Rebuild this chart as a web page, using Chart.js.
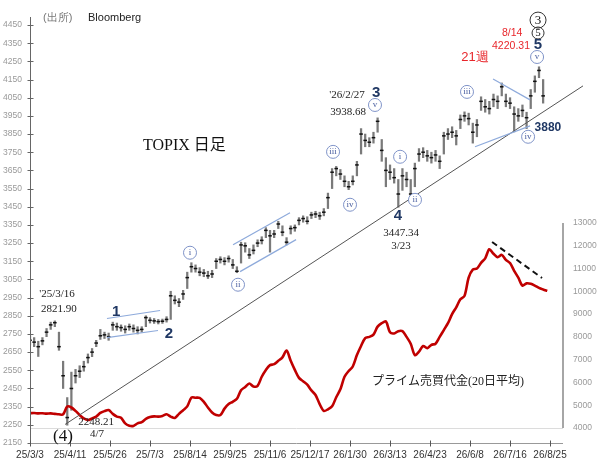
<!DOCTYPE html>
<html>
<head>
<meta charset="utf-8">
<script src="https://cdn.jsdelivr.net/npm/chart.js@4.4.1/dist/chart.umd.min.js"></script>
<style>
  html, body { margin: 0; padding: 0; background: #fff; }
  #wrap { width: 604px; height: 464px; }
</style>
</head>
<body>
<div id="wrap"><canvas id="chart" width="604" height="464"></canvas></div>
<script>
// x axis: trading-day index, one sample every 3 days
const step = 3;
const xLabels = ['25/3/3', '25/4/11', '25/5/26', '25/7/3', '25/8/14', '25/9/25', '25/11/6',
                 '25/12/17', '26/1/30', '26/3/13', '26/4/23', '26/6/8', '26/7/16', '26/8/25'];
const xLabelPos = [0, 29, 58, 87, 116, 145, 174, 203, 232, 261, 290, 319, 348, 377];

const yTicks = [2150, 2250, 2350, 2450, 2550, 2650, 2750, 2850, 2950, 3050, 3150, 3250,
                3350, 3450, 3550, 3650, 3750, 3850, 3950, 4050, 4150, 4250, 4350, 4450];
const y1Ticks = [4000, 5000, 6000, 7000, 8000, 9000, 10000, 11000, 12000, 13000];

// TOPIX (close / high / low)
const close = [2715,2705,2680,2712,2760,2800,2812,2680,2520,2290,
  2450,2520,2545,2570,2620,2650,2700,2740,2745,2735,
  2800,2790,2785,2775,2790,2780,2770,2775,2840,2825,
  2822,2818,2820,2830,2960,2935,2925,2970,3060,3120,
  3110,3090,3085,3070,3080,3150,3160,3150,3165,3130,
  3095,3240,3235,3185,3210,3250,3265,3320,3290,3300,
  3355,3310,3255,3330,3335,3375,3385,3370,3405,3410,
  3400,3420,3500,3640,3660,3630,3590,3560,3590,3680,
  3850,3815,3805,3830,3920,3760,3650,3640,3610,3520,
  3620,3600,3520,3660,3740,3750,3730,3720,3735,3700,
  3840,3850,3860,3840,3930,3950,3935,3860,3900,4030,
  4000,3990,4040,4030,4110,4030,4020,3960,3950,3980,
  3940,4060,4140,4200,4060];
const high = [2740,2730,2710,2730,2780,2815,2822,2760,2600,2400,
  2540,2555,2575,2600,2640,2670,2715,2775,2760,2755,
  2815,2810,2800,2795,2805,2800,2790,2790,2850,2840,
  2835,2830,2832,2845,2985,2960,2945,2990,3090,3142,
  3130,3115,3105,3095,3100,3165,3175,3170,3180,3160,
  3120,3255,3252,3220,3240,3268,3285,3335,3320,3320,
  3370,3345,3280,3345,3350,3390,3400,3395,3420,3425,
  3420,3440,3525,3660,3672,3655,3620,3590,3620,3700,
  3880,3850,3830,3860,3939,3820,3720,3680,3660,3600,
  3660,3640,3600,3690,3770,3775,3760,3750,3760,3730,
  3860,3880,3890,3870,3955,3972,3965,3910,3930,4055,
  4040,4030,4070,4060,4131,4070,4050,4000,3990,4010,
  3970,4095,4170,4220,4150];
const low = [2690,2680,2626,2690,2735,2775,2790,2660,2450,2248,
  2330,2480,2510,2545,2590,2625,2680,2720,2725,2715,
  2770,2770,2765,2755,2770,2760,2750,2760,2790,2810,
  2808,2805,2808,2815,2830,2915,2900,2940,3000,3090,
  3090,3070,3065,3055,3060,3110,3140,3130,3145,3110,
  3087,3140,3200,3165,3190,3230,3245,3280,3200,3280,
  3330,3290,3240,3300,3315,3350,3365,3355,3385,3390,
  3380,3400,3440,3550,3620,3600,3560,3544,3570,3620,
  3740,3780,3780,3800,3860,3700,3560,3600,3580,3447,
  3540,3560,3500,3560,3700,3720,3700,3690,3700,3660,
  3740,3820,3830,3790,3880,3920,3900,3800,3835,3980,
  3970,3960,4000,3990,4060,4000,3990,3862,3920,3945,
  3880,3990,4080,4160,4020];

// プライム売買代金 (20日平均), right axis
const turnover = [4650,4660,4640,4650,4630,4640,4620,4600,4600,4940,
  4900,4750,4570,4420,4350,4420,4500,4660,4740,4790,
  4620,4500,4450,4200,4100,4090,4200,4260,4400,4480,
  4510,4500,4530,4600,4500,4440,4620,4780,4950,5330,
  5330,5320,5150,4900,4680,4570,4570,4850,5050,5150,
  5280,5660,5800,5950,5820,5850,6250,6550,6760,6800,
  6950,7100,7400,6950,6550,6200,6050,5900,5650,5450,
  5050,4750,4820,4950,5350,5700,6250,6500,6700,7200,
  7600,7950,8000,8100,8450,8600,8680,8200,8150,8250,
  8250,8000,7700,7200,7350,7600,7500,7650,7700,8000,
  8300,8600,9000,9300,9650,9800,10600,10950,11000,11250,
  11450,11850,11650,11500,11600,11380,11240,10900,10600,10250,
  10350,10330,10250,10150,10080,10020];

// annotation lines in data units [day, price]
const trendLine = [[25.4, 2252], [400.9, 4115]];
const blueLines = [
  [[55.8, 2835], [94.3, 2879]],
  [[55.8, 2730], [92.8, 2769]],
  [[147.2, 3241], [188.5, 3417]],
  [[152.3, 3093], [192.9, 3269]],
  [[322.6, 3780], [362.5, 3895]],
  [[335.7, 4153], [362.5, 4038]]
];
const turnoverDash = [[335.0, 12165], [371.2, 10585]];

const waveCircles = [
  ['i', 116.0, 3197], ['ii', 150.8, 3021], ['iii', 219.7, 3752], ['iv', 232.0, 3461],
  ['v', 250.1, 4010], ['i', 268.3, 3725], ['ii', 279.1, 3488], ['iii', 316.8, 4082],
  ['v', 367.6, 4274], ['iv', 361.1, 3835]
];

const SERIF = "'Liberation Serif', 'Noto Sans CJK JP', serif";
const SANS = "'Liberation Sans', Arial, sans-serif";
const NAVY = '#203864';
const RED = '#e8262b';

const texts = [
  ["'25/3/16", 19.6, 2967, '11px ' + SERIF, '#222', 'center'],
  ['2821.90', 21.0, 2884, '11px ' + SERIF, '#222', 'center'],
  ['1', 62.4, 2873, 'bold 15px ' + SANS, NAVY, 'center'],
  ['2', 100.8, 2752, 'bold 15px ' + SANS, NAVY, 'center'],
  ['TOPIX 日足', 81.9, 3785, '16px ' + SERIF, '#111', 'left'],
  ["'26/2/27", 229.8, 4065, '11px ' + SERIF, '#222', 'center'],
  ['3938.68', 230.6, 3972, '11px ' + SERIF, '#222', 'center'],
  ['3', 250.9, 4076, 'bold 15px ' + SANS, NAVY, 'center'],
  ['4', 266.8, 3401, 'bold 15px ' + SANS, NAVY, 'center'],
  ['3447.34', 269.0, 3307, '11px ' + SERIF, '#222', 'center'],
  ['3/23', 269.0, 3236, '11px ' + SERIF, '#222', 'center'],
  ['21週', 322.6, 4274, '13px ' + SANS, RED, 'center'],
  ['8/14', 349.5, 4406, '10.5px ' + SANS, RED, 'center'],
  ['4220.31', 348.7, 4335, '10.5px ' + SANS, RED, 'center'],
  ['5', 368.3, 4340, 'bold 15px ' + SANS, NAVY, 'center'],
  ['3880', 365.8, 3884, 'bold 12px ' + SANS, NAVY, 'left'],
  ['2248.21', 47.9, 2263, '11px ' + SERIF, '#222', 'center'],
  ['4/7', 48.6, 2197, '11px ' + SERIF, '#222', 'center'],
  ['(4)', 23.9, 2186, '17px ' + SERIF, '#111', 'center'],
  ['プライム売買代金(20日平均)', 303.1, 2488, '12px ' + SERIF, '#222', 'center']
];

function seg(ctx, x1, y1, x2, y2) {
  ctx.beginPath(); ctx.moveTo(x1, y1); ctx.lineTo(x2, y2); ctx.stroke();
}

const decor = {
  id: 'decor',
  beforeDatasetsDraw(chart) {
    const { ctx, chartArea: a, scales: { y1 } } = chart;
    ctx.save();
    ctx.strokeStyle = '#dcdcdc';
    ctx.lineWidth = 1;
    const yb = Math.round(y1.getPixelForValue(4000)) + 0.5;
    seg(ctx, a.left, yb, a.right, yb);
    ctx.restore();
  },
  afterDatasetsDraw(chart) {
    const { ctx, chartArea: a, scales: { x, y, y1 } } = chart;
    const P = (d, v) => [x.getPixelForValue(d), y.getPixelForValue(v)];
    ctx.save();

    // axes
    ctx.lineWidth = 1;
    ctx.strokeStyle = '#666';
    const lx = Math.round(a.left) + 0.5;
    seg(ctx, lx, a.top - 8, lx, a.bottom);
    yTicks.forEach(t => {
      const py = Math.round(y.getPixelForValue(t)) + 0.5;
      seg(ctx, lx - 3, py, lx + 3, py);
    });
    ctx.strokeStyle = '#999';
    const by = Math.round(a.bottom) + 0.5;
    seg(ctx, a.left, by, a.right, by);
    ctx.strokeStyle = '#555';
    xLabelPos.forEach(t => {
      const px = Math.round(x.getPixelForValue(t)) + 0.5;
      seg(ctx, px, by - 3, px, by + 3);
    });
    ctx.strokeStyle = '#a6a6a6';
    ctx.lineWidth = 2;
    seg(ctx, a.right, y1.getPixelForValue(4000), a.right, y1.getPixelForValue(13000));

    // long support line
    ctx.lineWidth = 1;
    ctx.strokeStyle = '#555';
    seg(ctx, ...P(...trendLine[0]), ...P(...trendLine[1]));

    // channel lines
    ctx.strokeStyle = '#8eaadb';
    ctx.lineWidth = 1.2;
    blueLines.forEach(l => seg(ctx, ...P(...l[0]), ...P(...l[1])));

    // dashed line over turnover
    ctx.strokeStyle = '#111';
    ctx.lineWidth = 2;
    ctx.setLineDash([6, 4]);
    seg(ctx, x.getPixelForValue(turnoverDash[0][0]), y1.getPixelForValue(turnoverDash[0][1]),
             x.getPixelForValue(turnoverDash[1][0]), y1.getPixelForValue(turnoverDash[1][1]));
    ctx.setLineDash([]);

    // wave circles
    ctx.lineWidth = 1;
    waveCircles.forEach(([s, d, v]) => {
      const [cx, cy] = P(d, v);
      ctx.fillStyle = '#fff';
      ctx.strokeStyle = '#7f93c8';
      ctx.beginPath(); ctx.arc(cx, cy, 6.5, 0, Math.PI * 2); ctx.fill(); ctx.stroke();
      ctx.fillStyle = '#4a5fa0';
      ctx.font = '9px ' + SERIF;
      ctx.textAlign = 'center'; ctx.textBaseline = 'middle';
      ctx.fillText(s, cx, cy);
    });

    // circled 3 and 5
    [['3', 4477, 8, '13px '], ['5', 4406, 6, '11px ']].forEach(([s, v, r, f]) => {
      const [cx, cy] = P(368.3, v);
      ctx.strokeStyle = '#333';
      ctx.beginPath(); ctx.arc(cx, cy, r, 0, Math.PI * 2); ctx.stroke();
      ctx.fillStyle = '#111';
      ctx.font = f + SERIF;
      ctx.textAlign = 'center'; ctx.textBaseline = 'middle';
      ctx.fillText(s, cx, cy + 0.5);
    });

    // texts
    texts.forEach(([s, d, v, f, c, al]) => {
      const [px, py] = P(d, v);
      ctx.font = f; ctx.fillStyle = c;
      ctx.textAlign = al; ctx.textBaseline = 'middle';
      ctx.fillText(s, px, py);
    });

    // source
    ctx.textAlign = 'left'; ctx.textBaseline = 'middle';
    ctx.font = '11px ' + SANS;
    ctx.fillStyle = '#777';
    ctx.fillText('(出所)', a.left + 13, a.top - 7);
    ctx.fillStyle = '#222';
    ctx.fillText('Bloomberg', a.left + 58, a.top - 7);
    ctx.restore();
  }
};

Chart.defaults.font.family = SANS;

const chart = new Chart(document.getElementById('chart'), {
  type: 'line',
  data: {
    datasets: [
      {
        type: 'line',
        label: 'プライム売買代金',
        yAxisID: 'y1',
        data: turnover.map((v, i) => ({ x: i * step, y: v })),
        borderColor: '#c00000',
        borderWidth: 2.6,
        pointRadius: 0,
        tension: 0.3
      },
      {
        type: 'line',
        label: 'close',
        yAxisID: 'y',
        data: close.map((v, i) => ({ x: i * step, y: v })),
        showLine: false,
        pointStyle: 'line',
        pointRadius: 1.8,
        borderColor: '#111',
        borderWidth: 1.5
      },
      {
        type: 'bar',
        label: 'TOPIX',
        yAxisID: 'y',
        data: close.map((v, i) => ({ x: i * step, y: [low[i], high[i]] })),
        backgroundColor: '#7a7a7a',
        barThickness: 1.6
      }
    ]
  },
  options: {
    responsive: false,
    animation: false,
    layout: { padding: { top: 25, left: 0, right: 0, bottom: 0 } },
    plugins: { legend: { display: false }, tooltip: { enabled: false } },
    scales: {
      x: {
        type: 'linear',
        offset: false,
        min: 0,
        max: 386.4,
        grid: { display: false, drawTicks: false, offset: false },
        border: { display: false },
        afterBuildTicks: s => { s.ticks = xLabelPos.map(v => ({ value: v })); },
        afterFit: s => { s.height = 21; },
        ticks: {
          autoSkip: false,
          maxRotation: 0,
          padding: 6,
          color: '#333',
          font: { size: 10 },
          callback: (v, i) => xLabels[i]
        }
      },
      y: {
        position: 'left',
        min: 2150,
        max: 4450,
        grid: { display: false, drawTicks: false },
        border: { display: false },
        afterBuildTicks: s => { s.ticks = yTicks.map(v => ({ value: v })); },
        afterFit: s => { s.width = 30; },
        ticks: { padding: 8, color: '#999', font: { size: 8.5 }, callback: v => String(v) }
      },
      y1: {
        position: 'right',
        min: 3341,
        max: 21693,
        grid: { display: false, drawTicks: false },
        border: { display: false },
        afterBuildTicks: s => { s.ticks = y1Ticks.map(v => ({ value: v })); },
        afterFit: s => { s.width = 41; },
        ticks: { padding: 10, color: '#999', font: { size: 8.5 }, callback: v => String(v) }
      }
    }
  },
  plugins: [decor]
});
</script>
</body>
</html>
